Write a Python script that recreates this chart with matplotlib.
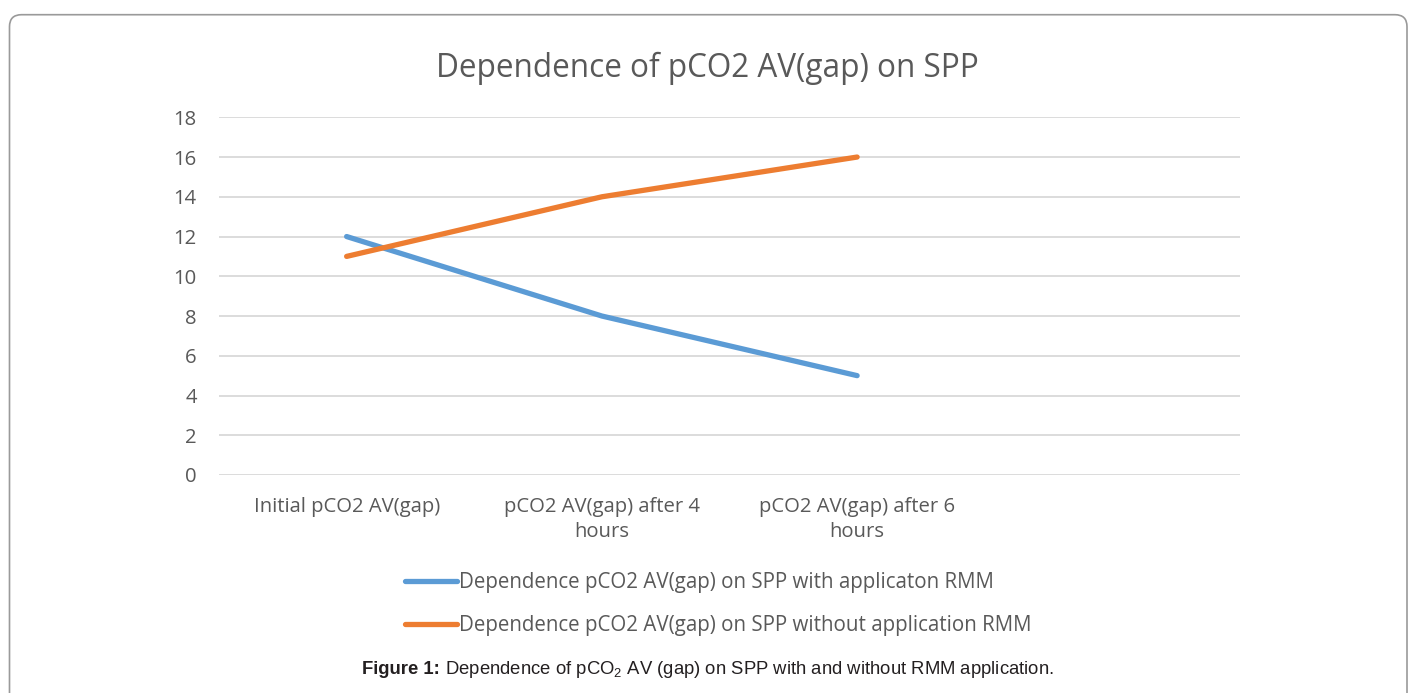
import matplotlib
matplotlib.use("Agg")
import matplotlib.pyplot as plt
from matplotlib.patches import FancyBboxPatch
from matplotlib.transforms import IdentityTransform

categories = ["Initial pCO2 AV(gap)", "pCO2 AV(gap) after 4\nhours", "pCO2 AV(gap) after 6\nhours", ""]
with_rmm = [12, 8, 5]
without_rmm = [11, 14, 16]
series_names = ["Dependence pCO2 AV(gap) on SPP with applicaton RMM",
                "Dependence pCO2 AV(gap) on SPP without application RMM"]
title = "Dependence of pCO2 AV(gap) on SPP"

plt.rcParams["font.family"] = ["Open Sans", "DejaVu Sans"]

grey = "#595959"
blue = "#5B9BD5"
orange = "#ED7D31"

fig = plt.figure(figsize=(14.14, 6.93), dpi=100)
ax = fig.add_axes([219 / 1414, 1 - 475 / 693, (1240 - 219) / 1414, (475 - 117.3) / 693])

x = list(range(len(with_rmm)))
ax.plot(x, with_rmm, color=blue, lw=3.8, solid_capstyle="round", label=series_names[0])
ax.plot(x, without_rmm, color=orange, lw=3.8, solid_capstyle="round", label=series_names[1])

ax.set_xlim(-0.5, 3.5)
ax.set_ylim(0, 18)
ax.set_yticks(range(0, 19, 2))
ax.set_xticks(range(len(categories)))
ax.set_xticklabels(categories, fontsize=14.6, color=grey, linespacing=1.32)
ax.tick_params(axis="y", labelsize=14.6, labelcolor=grey, length=0, pad=16)
ax.tick_params(axis="x", length=0, pad=16)
ax.grid(axis="y", color="#D9D9D9", lw=1.3)
ax.set_axisbelow(True)
for s in ax.spines.values():
    s.set_visible(False)

fig.text(0.5, 1 - 68 / 693, title, ha="center", va="center", fontsize=22.7, color=grey)

fig.legend(loc="center left", bbox_to_anchor=(405 / 1414, 1 - 604 / 693), frameon=False,
           fontsize=14.8, labelcolor=grey, handlelength=2.55, handletextpad=0.1,
           labelspacing=1.1, borderpad=0, borderaxespad=0)

# caption: bold label followed by regular text
cap = fig.text(362 / 1414, 1 - 669 / 693, "Figure 1:", ha="left", va="center",
               fontsize=13.3, family="Liberation Sans", weight="bold", color="#231f20")
ax.annotate(r" Dependence of pCO$_2$ AV (gap) on SPP with and without RMM application.",
            xy=(1, 0.5), xycoords=cap, ha="left", va="center", annotation_clip=False,
            fontsize=13.3, family="Liberation Sans", color="#231f20",
            math_fontfamily="custom")

frame = FancyBboxPatch((9.5, -40), 1397.5, 693 - 14.7 + 40,
                       boxstyle="round,pad=0,rounding_size=12",
                       transform=IdentityTransform(), fill=False, ec="#9a9a9a", lw=1.2)
fig.patches.append(frame)

plt.rcParams["mathtext.rm"] = "Liberation Sans"
fig.savefig("out.png", dpi=100)
